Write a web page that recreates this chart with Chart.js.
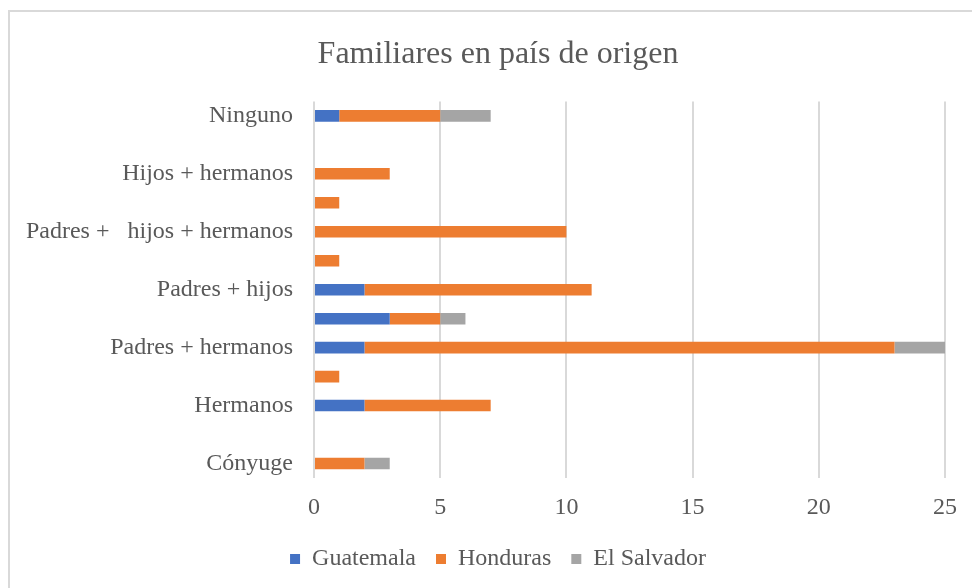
<!DOCTYPE html>
<html>
<head>
<meta charset="utf-8">
<script src="https://cdn.jsdelivr.net/npm/chart.js@4"></script>
<style>
  html, body { margin: 0; padding: 0; overflow: hidden; background: #fff; }
  #frame {
    position: absolute; left: 8px; top: 10px;
    width: 980px; height: 600px;
    border: 2px solid #d9d9d9;
  }
  #wrap { position: absolute; left: 0; top: 0; width: 976px; height: 596px; }
</style>
</head>
<body>
<div id="frame"><div id="wrap"><canvas id="chart"></canvas></div></div>
<script>
// categories (top to bottom), unlabeled rows are skipped labels in the original
const categorias = [
  'Ninguno', '', 'Hijos + hermanos', '', 'Padres +   hijos + hermanos', '',
  'Padres + hijos', '', 'Padres + hermanos', '', 'Hermanos', '', 'Cónyuge'
];
const guatemala = [1, 0, 0, 0, 0, 0, 2, 3, 2, 0, 2, 0, 0];
const honduras  = [4, 0, 3, 1, 10, 1, 9, 2, 21, 1, 5, 0, 2];
const salvador  = [2, 0, 0, 0, 0, 0, 0, 1, 2, 0, 0, 0, 1];
const xTicks = [0, 5, 10, 15, 20, 25];

const textColor = '#595959';
const gridColor = '#d9d9d9';
const serif = "'Liberation Serif', 'Times New Roman', serif";

const mkSet = (label, data, color) => ({
  label, data,
  backgroundColor: color,
  borderWidth: 0,
  barPercentage: 0.4,
  categoryPercentage: 1
});

new Chart(document.getElementById('chart'), {
  type: 'bar',
  data: {
    labels: categorias,
    datasets: [
      mkSet('Guatemala', guatemala, '#4472C4'),
      mkSet('Honduras', honduras, '#ED7D31'),
      mkSet('El Salvador', salvador, '#A5A5A5')
    ]
  },
  options: {
    indexAxis: 'y',
    responsive: true,
    maintainAspectRatio: false,
    animation: false,
    layout: { padding: { left: 0, right: 0, top: 0, bottom: 27 } },
    plugins: {
      title: {
        display: true,
        text: 'Familiares en país de origen',
        color: textColor,
        font: { family: serif, size: 32, weight: 'normal' },
        padding: { top: 23, bottom: 28 }
      },
      legend: {
        position: 'bottom',
        labels: {
          color: textColor,
          font: { family: serif, size: 24 },
          boxWidth: 10,
          boxHeight: 10,
          padding: 20
        }
      },
      tooltip: { enabled: false }
    },
    scales: {
      x: {
        stacked: true,
        min: 0,
        max: 25,
        afterBuildTicks: scale => { scale.ticks = xTicks.map(v => ({ value: v })); },
        afterFit: scale => { scale.height = 49; },
        ticks: { color: textColor, font: { family: serif, size: 24 }, padding: 15 },
        grid: { color: gridColor, lineWidth: 2, drawTicks: false },
        border: { display: false }
      },
      y: {
        stacked: true,
        afterFit: scale => { scale.width = 304; },
        ticks: { color: textColor, font: { family: serif, size: 24 }, padding: 13, autoSkip: false },
        grid: { display: false },
        border: { display: false }
      },
      // empty right-hand axis, only reserves the right margin so the title stays centred
      yRight: {
        type: 'category',
        axis: 'y',
        position: 'right',
        afterFit: scale => { scale.width = 41; },
        ticks: { display: false },
        grid: { display: false },
        border: { display: false }
      }
    }
  }
});
</script>
</body>
</html>
